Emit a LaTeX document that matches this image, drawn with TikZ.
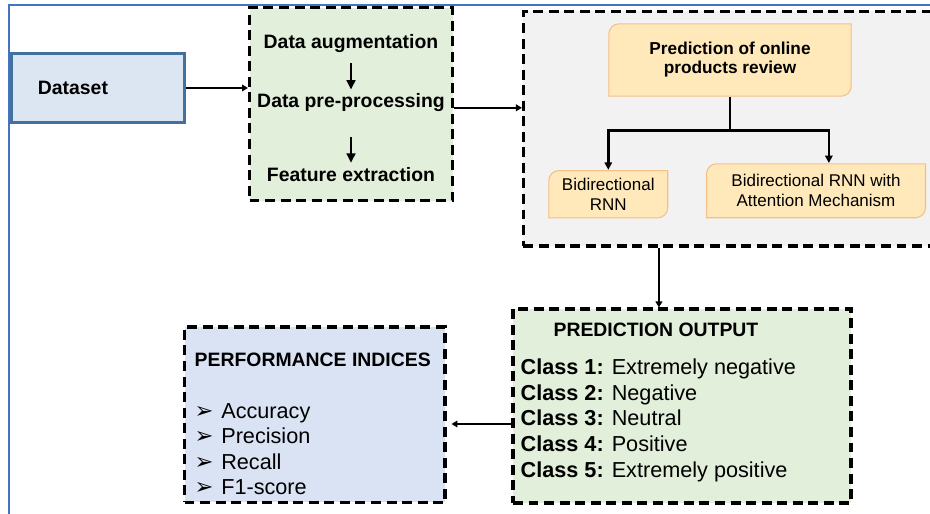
\documentclass[tikz,border=0pt]{standalone}
\usepackage{fontspec}
\setmainfont{Liberation Sans}
\newfontfamily\dingfont{DejaVu Sans}
\usepackage{tikz}
\usetikzlibrary{arrows.meta,positioning,calc}
\definecolor{dsblue}{RGB}{220,230,242}
\definecolor{dsedge}{RGB}{65,113,156}
\definecolor{prepgreen}{RGB}{226,239,218}
\definecolor{panelgrey}{RGB}{242,242,242}
\definecolor{revfill}{RGB}{255,233,187}
\definecolor{revedge}{RGB}{245,190,135}
\definecolor{perfblue}{RGB}{218,227,243}
\definecolor{frameblue}{RGB}{68,114,196}
\newcommand{\bul}{\makebox[20pt][l]{\dingfont\fontsize{17}{17}\selectfont ➢}}
\tikzset{
  dashbox/.style={draw=black, line width=2.3pt, dash pattern=on 7.5pt off 4.2pt},
  flow/.style={line width=1.4pt, -{Triangle[length=4.5pt,width=5pt]}},
  tree/.style={line width=2pt, -{Triangle[length=5.5pt,width=5.5pt]}},
  headtxt/.style={font=\fontsize{14.6}{17}\selectfont\bfseries, inner sep=0pt},
  listtxt/.style={font=\fontsize{16.3}{19.5}\selectfont, inner sep=0pt, align=left, anchor=north west},
  diagbox/.style={inner sep=0pt, align=center,
    path picture={
      \filldraw[draw=revedge, fill=revfill, line width=0.8pt]
        let \p1=(path picture bounding box.south west),
            \p2=(path picture bounding box.north east) in
        (\x1+0.4pt,\y1+0.4pt) -- (\x1+0.4pt,\y2-8pt)
        arc[start angle=180, end angle=90, radius=7.6pt]
        -- (\x2-0.4pt,\y2-0.4pt) -- (\x2-0.4pt,\y1+8pt)
        arc[start angle=0, end angle=-90, radius=7.6pt] -- cycle;
    }}
}
\begin{document}
\begin{tikzpicture}
  \useasboundingbox (0,0) rectangle (24.606,13.573);
  \clip (0,0) rectangle (24.606,13.573);
  \draw[frameblue, line width=1.2pt] (0.238,-1) -- (0.238,13.441) -- (25.5,13.441);

  % input and preparation
  \node[draw=dsedge, fill=dsblue, line width=2.2pt, minimum width=4.577cm, minimum height=1.826cm, text width=3.18cm, inner xsep=0.70cm, align=left, font=\fontsize{14.6}{17}\selectfont\bfseries] (dataset) at (2.593,11.245) {Dataset};
  \node[dashbox, fill=prepgreen, minimum width=5.371cm, minimum height=5.106cm] (prep) at (9.287,10.821) {};
  \node[headtxt, anchor=base] (aug) at (9.287,12.277) {Data augmentation};
  \node[headtxt, anchor=base] (pre) at (9.287,10.716) {Data pre-processing};
  \node[headtxt, anchor=base] (feat) at (9.287,8.758) {Feature extraction};
  \draw[tree, line width=2.2pt, -{Triangle[length=7pt,width=6.5pt]}, shorten <=0.265cm, shorten >=0.11cm] (aug.south) -- (pre.north);
  \draw[tree, line width=2.2pt, -{Triangle[length=7pt,width=6.5pt]}, shorten <=0.66cm, shorten >=0.13cm] (pre.south) -- (feat.north);

  % models
  \node[dashbox, fill=panelgrey, minimum width=11.549cm, minimum height=6.204cm] (grey) at (19.625,10.167) {};
  \node[diagbox, minimum width=6.44cm, minimum height=1.942cm, font=\fontsize{13}{14.3}\selectfont\bfseries] (review) at (19.315,11.985) {Prediction of online\\products review};
  \node[diagbox, minimum width=3.175cm, minimum height=1.278cm, font=\fontsize{12.8}{15}\selectfont] (birnn) at (16.094,8.435) {Bidirectional\\RNN};
  \node[diagbox, minimum width=5.821cm, minimum height=1.455cm, font=\fontsize{12.8}{15}\selectfont] (attn) at (21.590,8.525) {Bidirectional RNN with\\Attention Mechanism};
  \draw[tree] (review.south) -- ++(0,-0.881) coordinate (fork) -| (birnn.north);
  \draw[tree] (fork) -| ([xshift=0.34cm]attn.north);

  % outputs
  \node[dashbox, fill=prepgreen, minimum width=8.943cm, minimum height=5.133cm] (output) at (18.044,2.831) {};
  \node[listtxt] (outtxt) at ([xshift=0.238cm,yshift=-0.397cm]output.north west)
    {\hspace*{24.75pt}\textbf{\fontsize{14.6}{17}\selectfont PREDICTION OUTPUT}\\[9pt]
     \textbf{Class 1:} Extremely negative\\
     \textbf{Class 2:} Negative\\
     \textbf{Class 3:} Neutral\\
     \textbf{Class 4:} Positive\\
     \textbf{Class 5:} Extremely positive};
  \node[dashbox, fill=perfblue, minimum width=6.892cm, minimum height=4.643cm] (perf) at (8.328,2.600) {};
  \node[listtxt, font=\fontsize{16.3}{19.3}\selectfont] (perftxt) at ([xshift=0.304cm,yshift=-0.714cm]perf.north west)
    {\textbf{\fontsize{14.6}{17}\selectfont PERFORMANCE INDICES}\\[19.7pt]
     \bul Accuracy\\
     \bul Precision\\
     \bul Recall\\
     \bul F1-score};

  % connectors
  \draw[flow] (dataset.east) -- (dataset.east -| prep.west);
  \coordinate (exit) at ([yshift=-0.1cm]prep.east);
  \draw[flow] (exit) -- (exit -| grey.west);
  \coordinate (drop) at ([xshift=-0.61cm]output.north);
  \draw[flow] (drop |- grey.south) -- (drop);
  \coordinate (tap) at ([yshift=-0.476cm]output.west);
  \draw[flow, shorten >=0.13cm] (tap) -- (tap -| perf.east);
\end{tikzpicture}
\end{document}
